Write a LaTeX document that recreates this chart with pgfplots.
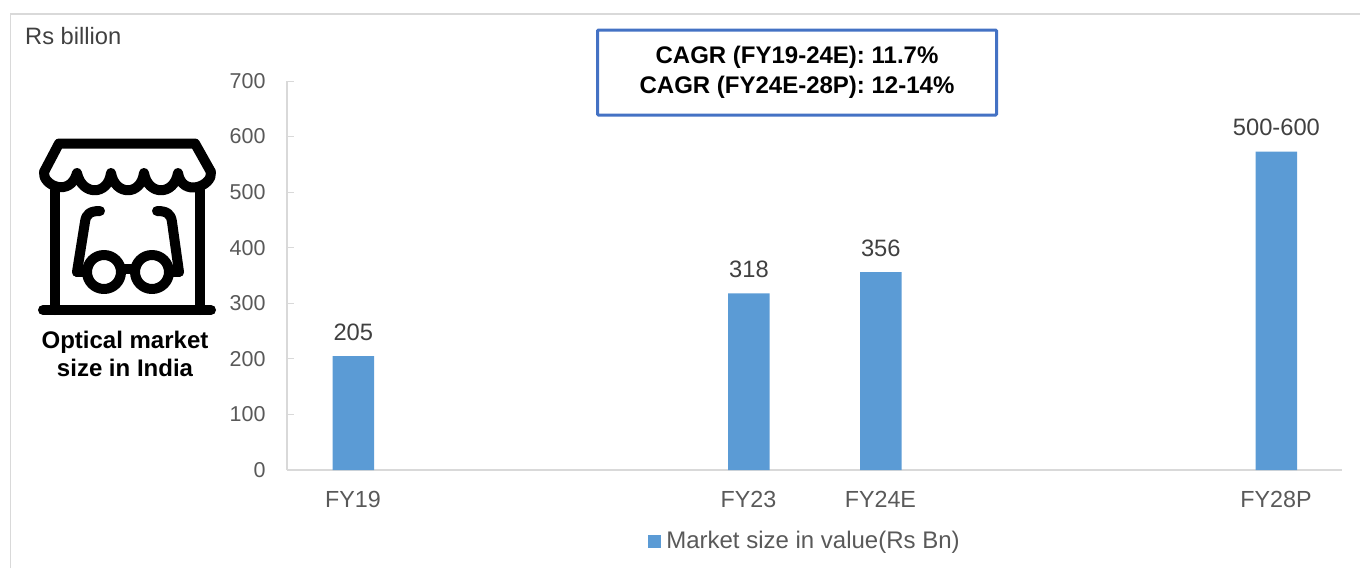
\documentclass[border=0pt]{standalone}
\usepackage{pgfplots}
\pgfplotsset{compat=1.18}
\usepackage{fontspec}
\setmainfont{Liberation Sans}
\definecolor{barblue}{HTML}{5B9BD5}
\definecolor{boxblue}{HTML}{4472C4}
\definecolor{ticktext}{HTML}{595959}
\definecolor{axisline}{HTML}{D9D9D9}
\definecolor{labeltext}{HTML}{404040}
\pgfplotstableread{
x y label
0 205 205
3 318 318
4 356 356
7 573 500-600
}\marketdata
\begin{document}
\begin{tikzpicture}[x=1pt,y=-1pt]
\path[use as bounding box] (0,0) rectangle (1360,568);
% outer frame
\draw[axisline,line width=1.5pt] (10.5,568) -- (10.5,14) -- (1360,14);
\begin{axis}[
  at={(287pt,-470pt)},
  anchor=south west,
  scale only axis,
  width=1055pt,
  height=389pt,
  ybar,
  bar width=41.5pt,
  xmin=-0.5,xmax=7.5,
  ymin=0,ymax=700,
  ytick={0,100,...,700},
  xtick={0,3,4,7},
  xticklabels={FY19,FY23,FY24E,FY28P},
  axis x line*=bottom,
  axis y line*=left,
  axis line style={axisline,line width=1.5pt,-},
  tick style={axisline,line width=1pt},
  ytick style={draw=axisline},
  xtick style={draw=none},
  major tick length=7pt,
  ticklabel style={font=\fontsize{21.5}{25}\selectfont,text=ticktext},
  /pgf/number format/assume math mode=true,
  xticklabel style={font=\fontsize{23.3}{25}\selectfont,yshift=-11pt},
  yticklabel style={xshift=-18pt},
  point meta=explicit symbolic,
  nodes near coords,
  every node near coord/.append style={font=\fontsize{23.7}{25}\selectfont,text=labeltext,yshift=12pt},
  legend style={at={(0.4910,-0.1825)},anchor=center,draw=none,fill=none,
    font=\fontsize{24}{28}\selectfont,text=ticktext,inner sep=0pt,
    /tikz/every odd column/.append style={column sep=3pt}},
  legend image code/.code={\fill[barblue] (0pt,-6.5pt) rectangle (13pt,6.5pt);},
  clip=false,
]
\addplot[fill=barblue,draw=none,bar shift=0.4pt] table[x=x,y=y,meta=label] {\marketdata};
\legend{Market size in value(Rs Bn)}
\end{axis}
\node[anchor=base west,inner sep=0pt,font=\fontsize{23.7}{25}\selectfont,text=labeltext] at (25,44) {Rs billion};
\node[draw=boxblue,line width=3pt,rounded corners=1pt,minimum width=399pt,minimum height=85pt,inner sep=0pt,
  align=center,font=\bfseries\fontsize{24}{30}\selectfont] at (797,72.5) {CAGR (FY19-24E): 11.7\%\\CAGR (FY24E-28P): 12-14\%};
\node[align=center,font=\bfseries\fontsize{24}{28}\selectfont] at (125,354) {Optical market\\size in India};
% store front icon
\begin{scope}[line width=10pt,line cap=round,line join=round,black]
\draw (43,310) -- (211,310);
\draw (55,190) -- (55,310) (200,190) -- (200,310);
\draw (44,172) -- (59,143.5) -- (195,143.5) -- (211,172);
\draw (44,172) .. controls (42,185) and (70,198) .. (77,173)
  .. controls (82,196) and (108,196) .. (111,173)
  .. controls (115,196) and (141,196) .. (144,173)
  .. controls (148,196) and (174,196) .. (178,173)
  .. controls (182,198) and (213,186) .. (211,172);
\draw (100,211) .. controls (90,211) and (86,214) .. (85,222) -- (77,272);
\draw (157,211) .. controls (167,211) and (171,214) .. (172,222) -- (179,272);
\draw (77,272) -- (85,272) (171,272) -- (179,272);
\draw (104,272) circle[radius=17];
\draw (152,272) circle[radius=17];
\draw (121,269) -- (135,269);
\end{scope}
\end{tikzpicture}
\end{document}
